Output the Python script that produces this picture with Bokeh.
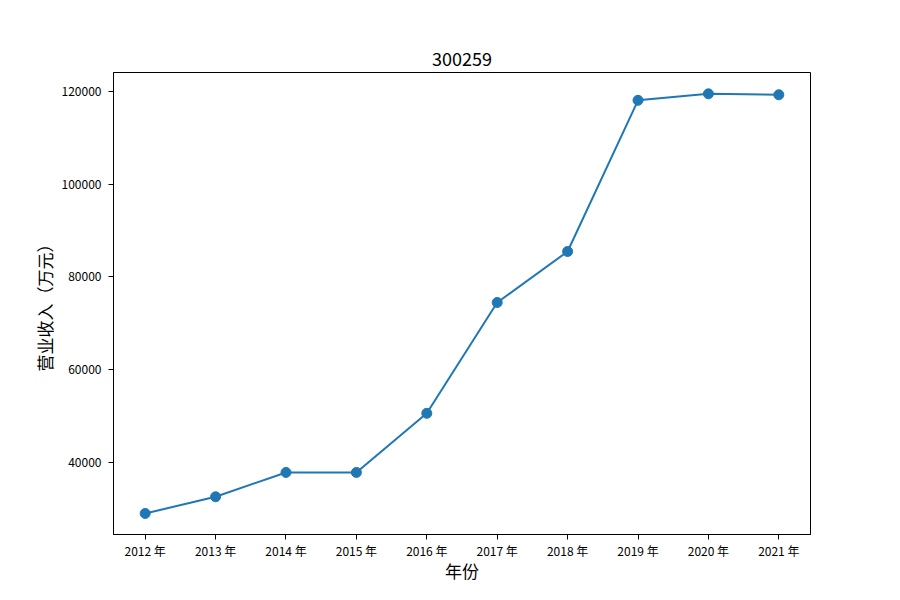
from bokeh.plotting import figure
from bokeh.models import FixedTicker, Range1d, ColumnDataSource
from bokeh.embed import file_html
from bokeh.resources import INLINE

years = ["2012 年", "2013 年", "2014 年", "2015 年", "2016 年",
         "2017 年", "2018 年", "2019 年", "2020 年", "2021 年"]
revenue = [29000, 32600, 37850, 37850, 50600, 74500, 85500, 118100, 119500, 119300]
y_ticks = [40000, 60000, 80000, 100000, 120000]

xs = list(range(len(years)))
src = ColumnDataSource(dict(x=xs, y=revenue))

FONT = "Noto Sans CJK SC"

p = figure(width=890, height=600, output_backend="svg", toolbar_location=None,
           x_range=Range1d(-0.45, len(years) - 1 + 0.45),
           y_range=Range1d(24466, 124100),
           title="300259",
           min_border_left=113, min_border_right=80,
           min_border_top=72, min_border_bottom=66)

p.line("x", "y", source=src, line_width=2, line_color="#1f77b4")
p.scatter("x", "y", source=src, size=10, fill_color="#1f77b4", line_color="#1f77b4")

p.title.align = "center"
p.title.text_font = FONT
p.title.text_font_size = "18px"
p.title.text_font_style = "normal"
p.title.text_color = "black"
p.title.standoff = 14

p.xgrid.visible = False
p.ygrid.visible = False
p.outline_line_color = "black"
p.outline_line_width = 1
p.outline_line_alpha = 1

p.xaxis.ticker = FixedTicker(ticks=xs)
p.xaxis.major_label_overrides = {i: s for i, s in enumerate(years)}
p.yaxis.ticker = FixedTicker(ticks=y_ticks)
p.yaxis.formatter.use_scientific = False

for ax in (p.xaxis[0], p.yaxis[0]):
    ax.axis_line_color = "black"
    ax.major_tick_line_color = "black"
    ax.major_tick_out = 5
    ax.major_tick_in = 0
    ax.minor_tick_line_color = None
    ax.major_label_text_font = FONT
    ax.major_label_text_font_size = "12px"
    ax.major_label_text_color = "black"
    ax.axis_label_text_font = FONT
    ax.axis_label_text_font_size = "17px"
    ax.axis_label_text_font_style = "normal"
    ax.axis_label_text_color = "black"

p.xaxis.axis_label = "年份"
p.yaxis.axis_label = "营业收入（万元）"
p.xaxis.axis_label_standoff = -4
p.yaxis.axis_label_standoff = 2
p.yaxis.major_label_standoff = 7
p.xaxis.major_label_standoff = 2

open("out.html", "w").write(file_html(p, INLINE))
